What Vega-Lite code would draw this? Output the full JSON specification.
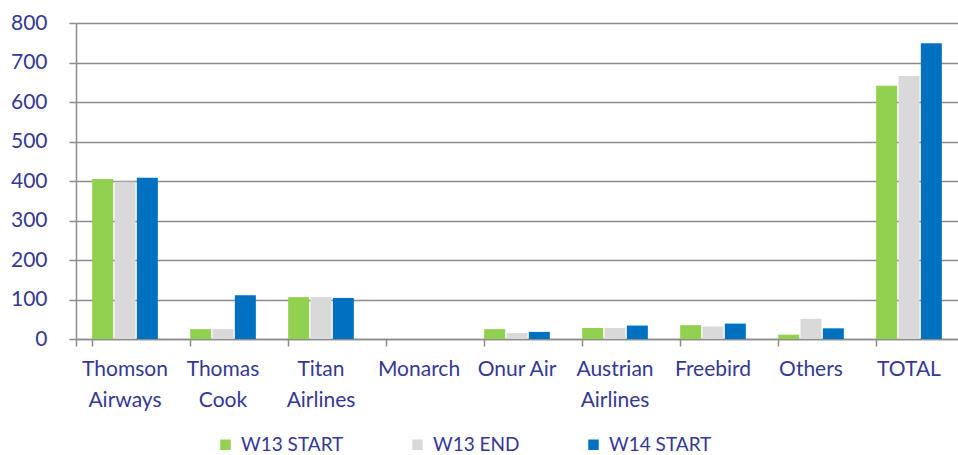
{
  "$schema": "https://vega.github.io/schema/vega-lite/v6.json",
  "width": 882,
  "height": 316,
  "autosize": "none",
  "padding": {"left": 76, "top": 23, "right": 0, "bottom": 116},
  "background": "white",
  "config": {
    "view": {"stroke": null},
    "font": "Lato"
  },
  "data": {
    "values": [
      {"airline": "Thomson Airways", "series": "W13 START", "value": 405},
      {"airline": "Thomson Airways", "series": "W13 END", "value": 398},
      {"airline": "Thomson Airways", "series": "W14 START", "value": 408},
      {"airline": "Thomas Cook", "series": "W13 START", "value": 25},
      {"airline": "Thomas Cook", "series": "W13 END", "value": 25},
      {"airline": "Thomas Cook", "series": "W14 START", "value": 111},
      {"airline": "Titan Airlines", "series": "W13 START", "value": 106},
      {"airline": "Titan Airlines", "series": "W13 END", "value": 106},
      {"airline": "Titan Airlines", "series": "W14 START", "value": 104},
      {"airline": "Monarch", "series": "W13 START", "value": 0},
      {"airline": "Monarch", "series": "W13 END", "value": 0},
      {"airline": "Monarch", "series": "W14 START", "value": 0},
      {"airline": "Onur Air", "series": "W13 START", "value": 25},
      {"airline": "Onur Air", "series": "W13 END", "value": 15},
      {"airline": "Onur Air", "series": "W14 START", "value": 18},
      {"airline": "Austrian Airlines", "series": "W13 START", "value": 28},
      {"airline": "Austrian Airlines", "series": "W13 END", "value": 28},
      {"airline": "Austrian Airlines", "series": "W14 START", "value": 34},
      {"airline": "Freebird", "series": "W13 START", "value": 35},
      {"airline": "Freebird", "series": "W13 END", "value": 32},
      {"airline": "Freebird", "series": "W14 START", "value": 39},
      {"airline": "Others", "series": "W13 START", "value": 11},
      {"airline": "Others", "series": "W13 END", "value": 51},
      {"airline": "Others", "series": "W14 START", "value": 27},
      {"airline": "TOTAL", "series": "W13 START", "value": 641},
      {"airline": "TOTAL", "series": "W13 END", "value": 666},
      {"airline": "TOTAL", "series": "W14 START", "value": 749}
    ]
  },
  "mark": {"type": "bar"},
  "encoding": {
    "x": {
      "field": "airline",
      "type": "nominal",
      "sort": null,
      "scale": {"paddingInner": 0.33, "paddingOuter": 0.165},
      "axis": {
        "title": null,
        "labelAngle": 0,
        "bandPosition": 0,
        "tickExtra": true,
        "labelExpr": "datum.label == 'Onur Air' ? datum.label : split(datum.label, ' ')",
        "labelFontSize": 21,
        "labelColor": "#353895",
        "labelLineHeight": 31,
        "labelPadding": 12,
        "labelBaseline": "top",
        "labelLimit": 200,
        "domainColor": "#8c8c8c",
        "domainWidth": 1.5,
        "tickColor": "#8c8c8c",
        "tickWidth": 1.5,
        "tickSize": 7,
        "grid": false
      }
    },
    "xOffset": {
      "field": "series",
      "type": "nominal",
      "sort": ["W13 START", "W13 END", "W14 START"],
      "scale": {"paddingInner": 0.06}
    },
    "y": {
      "field": "value",
      "type": "quantitative",
      "scale": {"domain": [0, 800]},
      "axis": {
        "title": null,
        "values": [0, 100, 200, 300, 400, 500, 600, 700, 800],
        "labelFontSize": 21,
        "labelColor": "#353895",
        "labelPadding": 22,
        "domainColor": "#8c8c8c",
        "domainWidth": 1.5,
        "tickColor": "#8c8c8c",
        "tickWidth": 1.5,
        "tickSize": 7,
        "gridColor": "#8c8c8c",
        "gridWidth": 1.5
      }
    },
    "color": {
      "field": "series",
      "type": "nominal",
      "sort": ["W13 START", "W13 END", "W14 START"],
      "scale": {
        "domain": ["W13 START", "W13 END", "W14 START"],
        "range": ["#92d050", "#d9d9d9", "#0070c0"]
      },
      "legend": {
        "title": null,
        "orient": "none",
        "legendX": 140,
        "legendY": 412,
        "direction": "horizontal",
        "symbolType": "square",
        "symbolSize": 110,
        "symbolStrokeWidth": 0,
        "labelFontSize": 19,
        "labelColor": "#353895",
        "columnPadding": 64,
        "labelOffset": 6
      }
    }
  }
}
